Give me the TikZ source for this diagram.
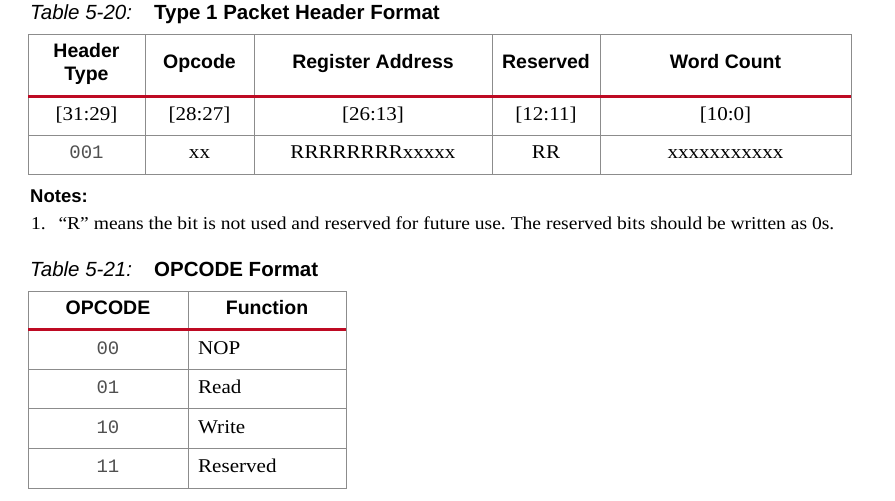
\documentclass[tikz,border=0pt]{standalone}
\usepackage{fontspec}
\setmainfont[FakeStretch=1.08]{Liberation Serif}
\setsansfont{Liberation Sans}
\setmonofont{Liberation Mono}
\definecolor{rule}{RGB}{140,140,140}
\definecolor{xred}{RGB}{190,10,35}
\definecolor{monogray}{RGB}{80,80,80}
\frenchspacing
\begin{document}
\begin{tikzpicture}[x=1pt,y=-1pt,
  grid/.style={draw=rule,line width=1pt},
  redrule/.style={draw=xred,line width=3pt},
  capit/.style={anchor=base west,inner sep=0pt,font=\sffamily\itshape\fontsize{20.5}{24}\selectfont},
  capbf/.style={anchor=base west,inner sep=0pt,font=\sffamily\bfseries\fontsize{20.5}{24}\selectfont},
  hd/.style={anchor=base,inner sep=0pt,font=\sffamily\bfseries\fontsize{19.5}{23}\selectfont,align=center},
  bd/.style={anchor=base,inner sep=0pt,font=\fontsize{19.5}{23}\selectfont},
  bdl/.style={anchor=base west,inner sep=0pt,font=\fontsize{19.5}{23}\selectfont},
  mono/.style={anchor=base,inner sep=0pt,font=\ttfamily\fontsize{19}{23}\selectfont,text=monogray},
  note/.style={anchor=base west,inner sep=0pt,font=\fontsize{18.1}{21}\selectfont}]
\useasboundingbox[fill=white] (0,0) rectangle (895,501);

% ---------- Table 5-20 ----------
\node[capit] (cap1a) at (30,19) {Table 5-20:};
\node[capbf] (cap1b) at (154,19) {Type 1 Packet Header Format};

\draw[grid] (28,34) rectangle (851,174);
\draw[grid] (28,135) -- (851,135);
\foreach \x in {145,254,492,600} \draw[grid] (\x,34) -- (\x,174);
\draw[redrule] (28,96) -- (851,96);

\node[hd] (h1a) at (86.5,57) {Header};
\node[hd] (h1b) at (86.5,80) {Type};
\node[hd] (h2) at (199.5,68.5) {Opcode};
\node[hd] (h3) at (373,68.5) {Register Address};
\node[hd] (h4) at (546,68.5) {Reserved};
\node[hd] (h5) at (725.5,68.5) {Word Count};

\node[bd] (r1c1) at (86.5,120.5) {[31:29]};
\node[bd] (r1c2) at (199.5,120.5) {[28:27]};
\node[bd] (r1c3) at (373,120.5) {[26:13]};
\node[bd] (r1c4) at (546,120.5) {[12:11]};
\node[bd] (r1c5) at (725.5,120.5) {[10:0]};

\node[mono] (r2c1) at (86.5,158.5) {001};
\node[bd] (r2c2) at (199.5,158.5) {xx};
\node[bd] (r2c3) at (373,158.5) {RRRRRRRRxxxxx};
\node[bd] (r2c4) at (546,158.5) {RR};
\node[bd] (r2c5) at (725.5,158.5) {xxxxxxxxxxx};

\node[anchor=base west,inner sep=0pt,font=\sffamily\bfseries\fontsize{18.5}{22}\selectfont] (notes) at (30,202.5) {Notes:};
\node[note] (n1) at (31,229.3) {1.\hspace{0.7em}“R” means the bit is not used and reserved for future use. The reserved bits should be written as 0s.};

% ---------- Table 5-21 ----------
\node[capit] (cap2a) at (30,276.7) {Table 5-21:};
\node[capbf] (cap2b) at (154,276.7) {OPCODE Format};

\draw[grid] (28,291) rectangle (346,488);
\foreach \y in {369,408.5,448} \draw[grid] (28,\y) -- (346,\y);
\draw[grid] (188,291) -- (188,488);
\draw[redrule] (28,329) -- (346,329);

\node[hd] (oh1) at (108,314.3) {OPCODE};
\node[hd] (oh2) at (267,314.3) {Function};

\node[mono] (o1) at (108,354) {00};
\node[mono] (o2) at (108,393.5) {01};
\node[mono] (o3) at (108,433) {10};
\node[mono] (o4) at (108,472.5) {11};
\node[bdl] (f1) at (198,354) {NOP};
\node[bdl] (f2) at (198,393.5) {Read};
\node[bdl] (f3) at (198,433) {Write};
\node[bdl] (f4) at (198,472.5) {Reserved};
\end{tikzpicture}
\end{document}
